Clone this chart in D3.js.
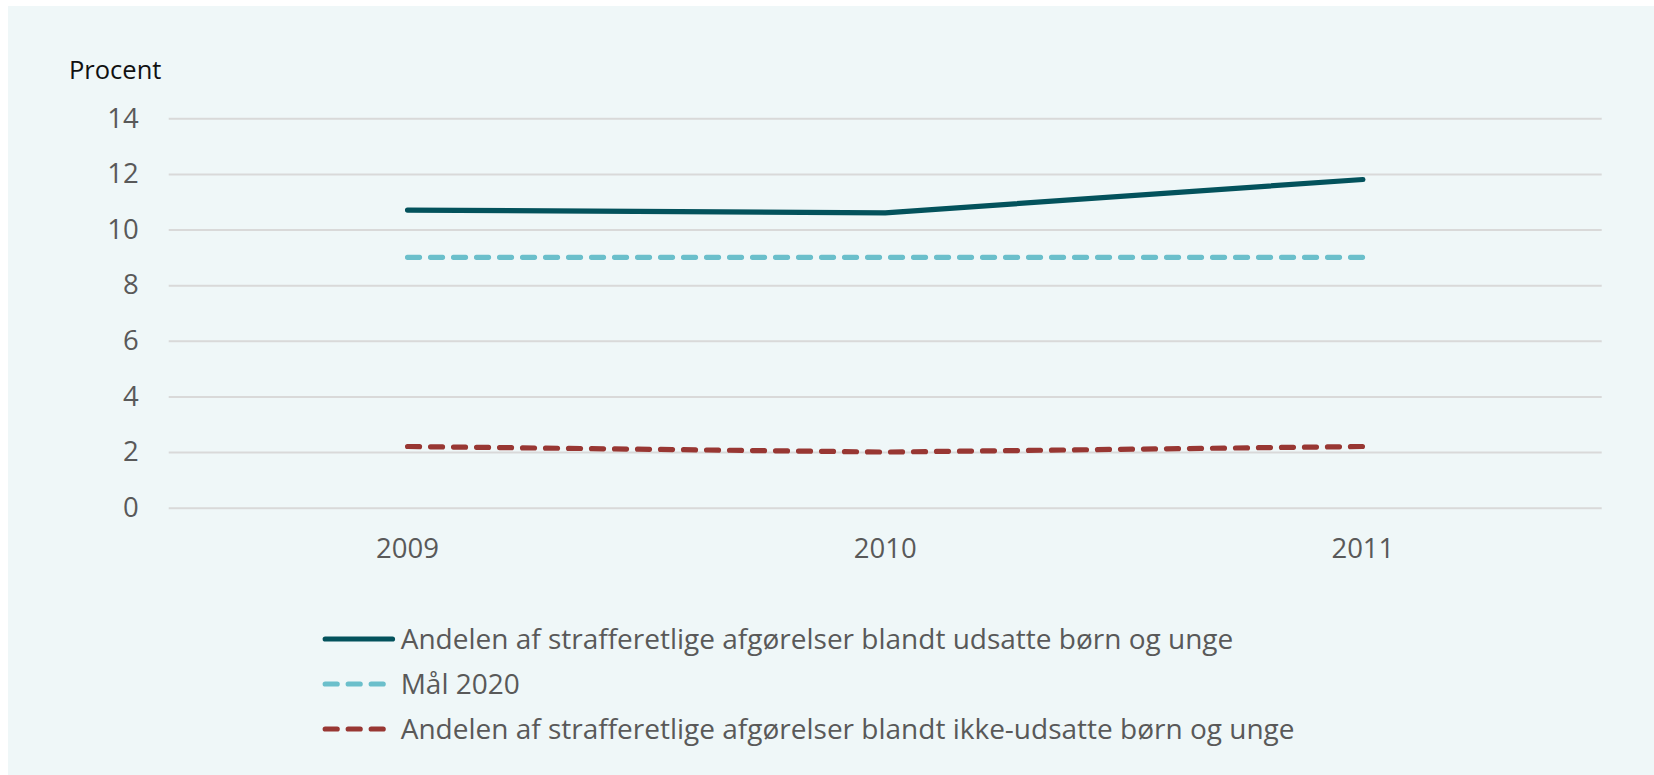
<!DOCTYPE html>
<html>
<head>
<meta charset="utf-8">
<script src="https://cdn.jsdelivr.net/npm/d3@7"></script>
<style>
  html, body { margin: 0; padding: 0; background: #ffffff; }
  svg { display: block; }
  text { font-family: "Open Sans", sans-serif; }
</style>
</head>
<body>
<svg id="chart" width="1654" height="775"></svg>
<script>
// ---- data ----
const categories = ["2009", "2010", "2011"];
const udsatte = [10.7, 10.6, 11.8];
const maal2020 = [9, 9, 9];
const ikkeUdsatte = [2.2, 2.0, 2.2];
const yTicks = [0, 2, 4, 6, 8, 10, 12, 14];
const yLabel = "Procent";
const legendLabels = [
  "Andelen af strafferetlige afgørelser blandt udsatte børn og unge",
  "Mål 2020",
  "Andelen af strafferetlige afgørelser blandt ikke-udsatte børn og unge"
];

// ---- layout ----
const W = 1654, H = 775;
const plot = { left: 168.7, right: 1601.7, top: 118.3, bottom: 507.7 };
const colors = ["#03525c", "#6bbfcb", "#983733"];
const dashes = [null, "12 11", "12 11"];

const svg = d3.select("#chart");
svg.append("rect").attr("x", 8).attr("y", 6).attr("width", W - 8).attr("height", H - 6)
  .attr("fill", "#eff7f8");

const x = d3.scaleBand().domain(categories).range([plot.left, plot.right]).padding(0);
const y = d3.scaleLinear().domain([0, 14]).range([plot.bottom, plot.top]);

// y axis + gridlines
const yAxis = svg.append("g").attr("transform", `translate(${plot.left},0)`)
  .call(d3.axisLeft(y).tickValues(yTicks).tickSizeInner(-(plot.right - plot.left)).tickSizeOuter(0).tickPadding(30));
yAxis.select(".domain").remove();
yAxis.selectAll(".tick line").attr("stroke", "#d9d9d9").attr("stroke-width", 2);
yAxis.selectAll(".tick text").attr("fill", "#595959").attr("font-size", 27.5)
  .attr("font-family", "'Open Sans', sans-serif");

// x axis
const xAxis = svg.append("g").attr("transform", `translate(0,${plot.bottom})`)
  .call(d3.axisBottom(x).tickSize(0).tickPadding(31));
xAxis.select(".domain").remove();
xAxis.selectAll(".tick text").attr("fill", "#595959").attr("font-size", 27.5)
  .attr("font-family", "'Open Sans', sans-serif");

// y label
svg.append("text").attr("x", 69).attr("y", 79.3).attr("fill", "#111111")
  .attr("font-size", 25.5).text(yLabel);

// lines
const series = [udsatte, maal2020, ikkeUdsatte];
const line = d3.line()
  .x((d, i) => x(categories[i]) + x.bandwidth() / 2)
  .y(d => y(d));

series.forEach((vals, k) => {
  const p = svg.append("path").datum(vals)
    .attr("d", line)
    .attr("fill", "none")
    .attr("stroke", colors[k])
    .attr("stroke-width", 5.2)
    .attr("stroke-linecap", "round")
    .attr("stroke-linejoin", "round");
  if (dashes[k]) p.attr("stroke-dasharray", dashes[k]);
});

// legend
const legend = svg.append("g");
const legY = [639, 684, 729];
legendLabels.forEach((lab, k) => {
  const g = legend.append("g").attr("transform", `translate(0,${legY[k]})`);
  const l = g.append("line").attr("x1", 325.2).attr("x2", 392.5).attr("y1", 0).attr("y2", 0)
    .attr("stroke", colors[k]).attr("stroke-width", 5.2).attr("stroke-linecap", "round");
  if (dashes[k]) l.attr("stroke-dasharray", dashes[k]);
  g.append("text").attr("x", 400.7).attr("y", 0).attr("dy", "0.35em")
    .attr("fill", "#595959").attr("font-size", 28).text(lab);
});
</script>
</body>
</html>
